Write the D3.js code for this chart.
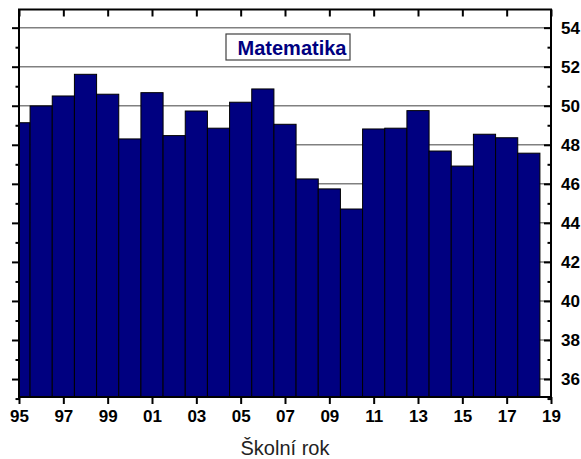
<!DOCTYPE html>
<html>
<head>
<meta charset="utf-8">
<script src="https://cdn.jsdelivr.net/npm/d3@7"></script>
<style>
  body { margin: 0; background: #fff; }
  svg text { font-family: Arial, "Liberation Sans", sans-serif; }
</style>
</head>
<body>
<div id="chart"></div>
<script>
// school years (95 = 1995/96 ... 118 = 2018/19)
const years = [95, 96, 97, 98, 99, 100, 101, 102, 103, 104, 105, 106,
               107, 108, 109, 110, 111, 112, 113, 114, 115, 116, 117, 118]
const scores = [49.13, 49.99, 50.5, 51.61, 50.59, 48.3, 50.67, 48.47, 49.73, 48.85, 50.18, 50.86,
                49.05, 46.25, 45.74, 44.71, 48.81, 48.85, 49.75, 47.68, 46.91, 48.54, 48.36, 47.57]
const xTicks = [95, 97, 99, 101, 103, 105, 107, 109, 111, 113, 115, 117, 119]
const yTicks = [36, 38, 40, 42, 44, 46, 48, 50, 52, 54]
const yMinorTicks = [35, 37, 39, 41, 43, 45, 47, 49, 51, 53]
const title = "Matematika"
const xTitle = "Školní rok"

window.onload = function() {
  let w = 581,
    h = 459,
    left = 19,
    right = 551,
    top = 9.5,
    bottom = 397;

  const svg = d3.select("#chart")
      .append("svg")
        .attr("width", w)
        .attr("height", h)

  let xScale = d3.scaleLinear()
      .domain([95, 119])
      .range([left, right])

  let yScale = d3.scaleLinear()
      .domain([35.08, 54.93])
      .range([bottom, top])

  svg.append("defs").append("clipPath")
      .attr("id", "plotClip")
    .append("rect")
      .attr("x", left)
      .attr("y", top)
      .attr("width", right - left)
      .attr("height", bottom - top)

  // grid
  svg.append("g")
      .selectAll("line")
      .data(yTicks)
      .enter().append("line")
        .attr("x1", left)
        .attr("x2", right)
        .attr("y1", function(d) { return yScale(d); })
        .attr("y2", function(d) { return yScale(d); })
        .attr("stroke", "#808080")
        .attr("stroke-width", 1.5)

  // bars
  svg.append("g")
      .attr("clip-path", "url(#plotClip)")
      .selectAll("rect")
      .data(years)
      .enter().append("rect")
        .attr("x", function(d) { return xScale(d - 0.5); })
        .attr("width", function(d) { return xScale(d + 0.5) - xScale(d - 0.5); })
        .attr("y", function(d, i) { return yScale(scores[i]); })
        .attr("height", function(d, i) { return bottom - yScale(scores[i]); })
        .attr("fill", "#000080")
        .attr("stroke", "#000")
        .attr("stroke-width", 1)

  let fmt = function(d) { return d3.format("02d")(d % 100); }

  // bottom
  svg.append("g")
      .attr("class", "axis")
      .attr("transform", "translate(0," + bottom + ")")
      .call(d3.axisBottom(xScale).tickValues(xTicks).tickFormat(fmt).tickSize(7).tickPadding(6))

  // top
  svg.append("g")
      .attr("class", "axis")
      .attr("transform", "translate(0," + top + ")")
      .call(d3.axisTop(xScale).tickValues(xTicks).tickFormat("").tickSize(-7))

  // left (outward ticks, no labels)
  svg.append("g")
      .attr("class", "axis")
      .attr("transform", "translate(" + left + ",0)")
      .call(d3.axisLeft(yScale).tickValues(yTicks).tickFormat("").tickSize(7))
  svg.append("g")
      .attr("class", "axis")
      .attr("transform", "translate(" + left + ",0)")
      .call(d3.axisLeft(yScale).tickValues(yMinorTicks).tickFormat("").tickSize(3.5))

  // right (inward ticks, labels)
  svg.append("g")
      .attr("class", "axis")
      .attr("transform", "translate(" + right + ",0)")
      .call(d3.axisRight(yScale).tickValues(yTicks).tickSize(-7).tickPadding(10))
  svg.append("g")
      .attr("class", "axis")
      .attr("transform", "translate(" + right + ",0)")
      .call(d3.axisRight(yScale).tickValues(yMinorTicks).tickFormat("").tickSize(-3.5))

  svg.selectAll(".axis .domain").remove()
  svg.selectAll(".axis line")
      .attr("stroke", "#000")
      .attr("stroke-width", 2)
  svg.selectAll(".axis text")
      .attr("fill", "#000")
      .style("font-size", "17px")
      .style("font-weight", "bold")

  // frame
  svg.append("rect")
      .attr("x", left)
      .attr("y", top)
      .attr("width", right - left)
      .attr("height", bottom - top)
      .attr("fill", "none")
      .attr("stroke", "#000")
      .attr("stroke-width", 2)

  // title box
  svg.append("rect")
      .attr("x", 226)
      .attr("y", 34)
      .attr("width", 124)
      .attr("height", 26)
      .attr("fill", "#fff")
      .attr("stroke", "#404040")
      .attr("stroke-width", 1.2)

  svg.append("text")
      .attr("x", 292)
      .attr("y", 55)
      .attr("text-anchor", "middle")
      .attr("fill", "#000080")
      .style("font-size", "20px")
      .style("font-weight", "bold")
      .text(title)

  svg.append("text")
      .attr("x", (left + right) / 2)
      .attr("y", 455)
      .attr("text-anchor", "middle")
      .attr("fill", "#222")
      .style("font-size", "20px")
      .text(xTitle)
}
</script>
</body>
</html>
